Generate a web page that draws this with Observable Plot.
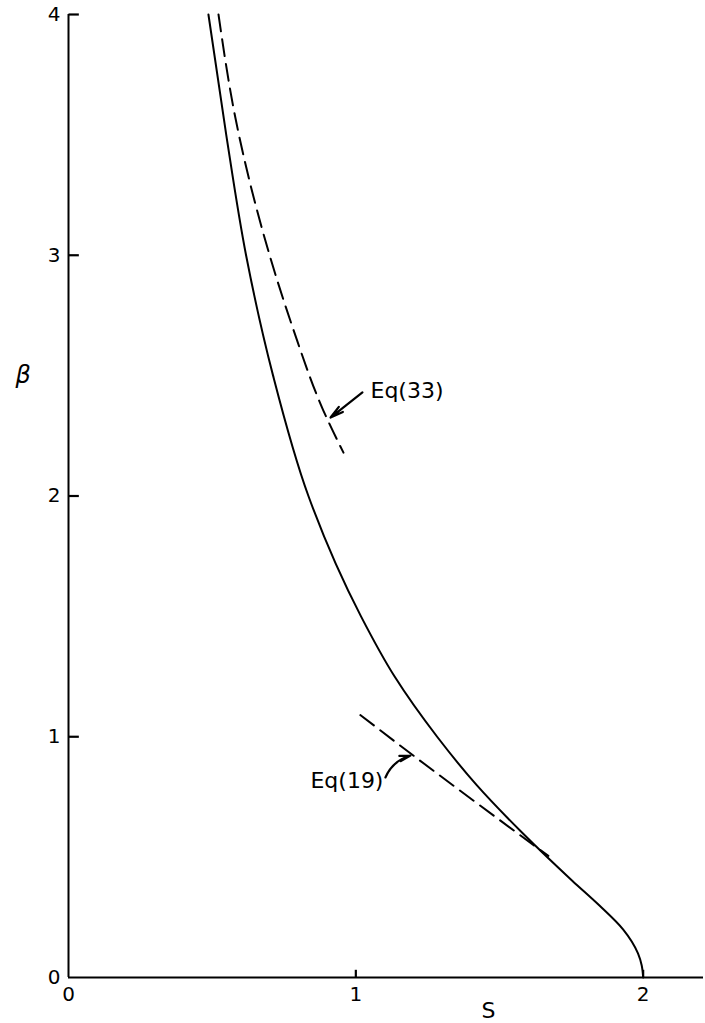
<!DOCTYPE html>
<html>
<head>
<meta charset="utf-8">
<script src="https://cdn.jsdelivr.net/npm/d3@7"></script>
<script src="https://cdn.jsdelivr.net/npm/@observablehq/plot@0.6"></script>
<style>
  html, body { margin: 0; padding: 0; background: #fff; }
  #chart svg { display: block; }
</style>
</head>
<body>
<div id="chart"></div>
<script>
// Solid curve (S, beta)
const solidS    = [0.487, 0.549, 0.618, 0.712, 0.835, 1.018, 1.135, 1.283, 1.420, 1.580, 1.755, 1.847, 1.930, 1.982, 1.995, 2.000];
const solidBeta = [4.00, 3.50, 3.00, 2.50, 2.00, 1.50, 1.25, 1.00, 0.80, 0.60, 0.40, 0.30, 0.20, 0.10, 0.05, 0.00];

// Dashed asymptote Eq(33)
const eq33S    = [0.522, 0.581, 0.700, 0.783, 0.887, 0.957];
const eq33Beta = [4.00, 3.57, 3.00, 2.69, 2.355, 2.18];

// Dashed asymptote Eq(19)
const eq19S    = [1.016, 1.200, 1.670];
const eq19Beta = [1.09, 0.922, 0.505];

// Annotations
const labelText = ["Eq(33)", "Eq(19)"];
const labelS    = [1.051, 0.842];
const labelBeta = [2.438, 0.818];
const arrowFromS    = [1.023, 1.103];
const arrowFromBeta = [2.430, 0.831];
const arrowToS      = [0.912, 1.190];
const arrowToBeta   = [2.326, 0.922];
const arrowBend     = [0, 25];

// Ticks
const xTicks = [0, 1, 2];
const yTicks = [0, 1, 2, 3, 4];

const solid = solidS.map((s, i) => ({S: s, beta: solidBeta[i]}));
const eq33 = eq33S.map((s, i) => ({S: s, beta: eq33Beta[i]}));
const eq19 = eq19S.map((s, i) => ({S: s, beta: eq19Beta[i]}));
const labels = labelText.map((t, i) => ({text: t, S: labelS[i], beta: labelBeta[i]}));
const arrows = arrowFromS.map((s, i) => ({x1: s, y1: arrowFromBeta[i], x2: arrowToS[i], y2: arrowToBeta[i], bend: arrowBend[i]}));
const yTickRows = yTicks.map(v => ({v, t: String(v)}));
const xTickRows = xTicks.map(v => ({v, t: String(v)}));

const font = "DejaVu Sans, Liberation Sans, sans-serif";

const chart = Plot.plot({
  width: 705,
  height: 1023,
  marginLeft: 68,
  marginTop: 14,
  marginBottom: 46,
  marginRight: 2,
  style: {fontFamily: font, background: "#fff", color: "#000"},
  x: {domain: [0, 2.21], axis: null},
  y: {domain: [0, 4], axis: null},
  marks: [
    // inward ticks
    Plot.link(yTickRows.slice(1), {x1: () => 0, x2: () => 0.036, y1: "v", y2: "v", stroke: "#000", strokeWidth: 2.2}),
    Plot.link(xTickRows.slice(1), {x1: "v", x2: "v", y1: () => 0, y2: () => 0.032, stroke: "#000", strokeWidth: 2.2}),
    // tick labels
    Plot.text(yTickRows, {x: () => 0, y: "v", text: "t", dx: -8, textAnchor: "end", fontSize: 20, fill: "#000"}),
    Plot.text(xTickRows, {x: "v", y: () => 0, text: "t", dy: 17, fontSize: 20, fill: "#000"}),
    // axis lines
    Plot.ruleX([0], {stroke: "#000", strokeWidth: 2}),
    Plot.ruleY([0], {stroke: "#000", strokeWidth: 2}),
    // curves
    Plot.line(solid, {x: "S", y: "beta", curve: "monotone-y", stroke: "#000", strokeWidth: 2}),
    Plot.line(eq33, {x: "S", y: "beta", curve: "monotone-y", stroke: "#000", strokeWidth: 2, strokeDasharray: "17,8"}),
    Plot.line(eq19, {x: "S", y: "beta", curve: "monotone-y", stroke: "#000", strokeWidth: 2, strokeDasharray: "17,8"}),
    ...arrows.map(a => Plot.arrow([a], {x1: "x1", y1: "y1", x2: "x2", y2: "y2", bend: a.bend, headLength: 11, headAngle: 28, stroke: "#000", strokeWidth: 2.2})),
    Plot.text(labels, {x: "S", y: "beta", text: "text", textAnchor: "start", fontSize: 22, fill: "#000"}),
    Plot.text(["β"], {frameAnchor: "left", y: 2.50, dx: -53, text: d => d, fontSize: 24, fontStyle: "italic", fill: "#000"}),
    Plot.text(["S"], {frameAnchor: "bottom", x: 1.462, dy: 33, lineAnchor: "middle", text: d => d, fontSize: 22, fill: "#000"})
  ]
});
document.getElementById("chart").appendChild(chart);
</script>
</body>
</html>
